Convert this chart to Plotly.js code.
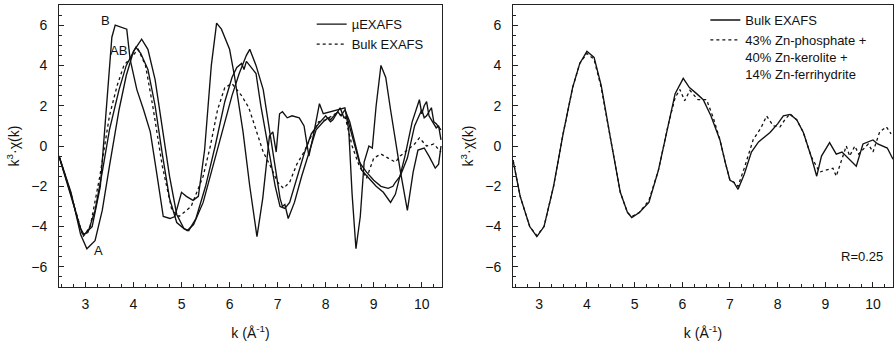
<!DOCTYPE html>
<html>
<head>
<meta charset="utf-8">
<script src="https://cdn.plot.ly/plotly-3.0.1.min.js"></script>
<style>html,body{margin:0;padding:0;background:#fff;}#chart{width:894px;height:344px;}</style>
</head>
<body>
<div id="chart"></div>
<script>
// ---------- Left panel: µEXAFS spectra A, AB, B and bulk EXAFS ----------
const kA  = [2.45,2.7,2.9,3.03,3.2,3.35,3.5,3.7,3.85,4.0,4.17,4.3,4.45,4.6,4.75,4.9,5.05,5.12,5.25,5.45,5.65,5.85,6.05,6.2,6.3,6.35,6.42,6.5,6.55,6.7,6.85,6.95,7.05,7.1,7.15,7.22,7.35,7.5,7.65,7.8,7.95,8.05,8.1,8.2,8.25,8.32,8.4,8.5,8.6,8.75,8.9,9.05,9.2,9.35,9.45,9.55,9.65,9.8,9.9,9.95,10.0,10.05,10.1,10.15,10.2,10.25,10.3,10.35,10.4];
const yA  = [-0.5,-2.3,-4.4,-5.1,-4.7,-3.2,-1.0,1.8,3.5,4.7,5.3,4.8,3.3,1.0,-1.5,-3.4,-4.1,-4.2,-3.9,-2.8,-1.0,0.7,2.5,3.6,4.2,4.5,4.8,4.3,4.0,2.8,0.5,-1.2,-2.6,-3.0,-2.9,-3.6,-2.8,-1.5,-0.3,0.8,1.2,1.4,1.3,1.6,1.7,1.5,1.8,1.2,0.2,-1.2,-1.6,-2.0,-2.3,-2.8,-2.4,-1.5,-0.5,1.2,1.9,2.3,1.6,2.0,2.2,1.5,1.3,1.1,0.9,1.0,0.3];
const kAB = [2.45,2.7,2.88,2.95,3.05,3.2,3.35,3.5,3.7,3.85,4.05,4.15,4.3,4.45,4.6,4.75,4.9,5.05,5.15,5.3,5.5,5.7,5.9,6.05,6.15,6.25,6.3,6.35,6.45,6.55,6.65,6.8,6.95,7.05,7.15,7.25,7.4,7.55,7.7,7.85,8.0,8.1,8.15,8.25,8.3,8.38,8.45,8.55,8.7,8.85,9.0,9.15,9.3,9.4,9.45,9.55,9.7,9.85,9.95,10.0,10.05,10.1,10.2,10.25,10.3,10.4];
const yAB = [-0.5,-2.4,-4.0,-4.4,-4.3,-3.2,-1.3,0.8,2.8,4.0,4.9,4.6,3.8,2.0,-0.4,-2.6,-3.8,-4.1,-4.2,-3.6,-2.0,0.0,2.2,3.4,3.9,4.1,3.8,4.2,3.9,3.6,2.0,0.0,-2.0,-3.0,-3.1,-2.8,-1.6,-0.4,0.6,1.1,1.5,1.2,1.3,1.7,1.9,1.4,1.4,0.5,-0.8,-1.3,-1.7,-2.0,-2.1,-2.0,-1.8,-1.5,-0.6,1.0,1.5,1.8,1.4,1.5,1.9,1.2,1.1,0.8];
const kB  = [2.45,2.72,2.9,2.97,3.14,3.31,3.45,3.55,3.62,3.76,3.86,3.93,4.07,4.21,4.35,4.48,4.62,4.76,4.86,5.0,5.1,5.24,5.35,5.48,5.62,5.73,5.83,6.0,6.1,6.28,6.42,6.57,6.69,6.83,6.9,6.97,7.04,7.1,7.2,7.3,7.45,7.55,7.65,7.75,7.87,7.95,8.1,8.25,8.4,8.48,8.55,8.63,8.72,8.8,8.9,8.97,9.05,9.15,9.25,9.35,9.45,9.55,9.7,9.82,9.92,10.05,10.15,10.28,10.35,10.4];
const yB  = [-0.5,-2.6,-4.1,-4.4,-4.0,-2.0,2.3,5.4,6.0,5.9,5.8,4.3,2.8,1.8,0.7,-1.3,-3.5,-3.6,-3.5,-2.3,-2.5,-2.7,-2.5,-0.2,4.0,6.1,5.8,4.8,3.5,0.7,-2.0,-4.5,-2.6,0.5,0.7,-0.3,1.6,1.7,1.4,1.5,1.4,1.0,-0.5,0.6,2.1,1.6,1.7,1.8,1.9,0.8,-2.4,-5.1,-3.5,-0.8,0.0,-0.1,2.0,4.0,3.4,1.8,0.2,-1.2,-3.2,-1.3,-0.2,-0.1,-0.5,-1.1,-0.9,0.0];
const kBulkL = [2.45,2.7,2.95,3.1,3.3,3.5,3.66,3.8,4.1,4.25,4.4,4.6,4.8,4.95,5.2,5.45,5.6,5.75,5.9,6.05,6.25,6.4,6.55,6.7,6.85,7.0,7.12,7.25,7.4,7.55,7.7,7.85,8.0,8.2,8.4,8.55,8.7,8.85,9.0,9.15,9.3,9.45,9.55,9.7,9.85,9.95,10.1,10.25,10.4];
const yBulkL = [-0.5,-2.4,-4.5,-4.0,-1.5,1.5,3.0,4.0,4.8,4.0,2.0,-1.0,-3.2,-3.5,-3.0,-1.5,0.0,1.8,2.9,3.1,2.5,1.9,0.8,-0.3,-1.0,-1.8,-2.1,-1.8,-0.9,-0.3,0.5,1.2,1.3,1.6,1.5,0.0,-1.0,-1.6,-0.6,-0.4,-0.6,-0.8,-0.5,-0.2,0.1,0.4,0.0,0.1,-0.3];

// ---------- Right panel: bulk EXAFS and linear-combination fit ----------
const kBulkR = [2.45,2.6,2.8,2.95,3.1,3.3,3.5,3.7,3.85,4.0,4.15,4.3,4.5,4.7,4.85,4.94,5.1,5.3,5.5,5.7,5.85,6.02,6.15,6.3,6.44,6.6,6.79,6.9,7.0,7.08,7.17,7.3,7.45,7.6,7.84,8.0,8.12,8.26,8.4,8.54,8.7,8.82,8.92,9.09,9.23,9.35,9.51,9.65,9.79,9.9,10.0,10.1,10.21,10.3,10.42];
const yBulkR = [-0.7,-2.5,-4.0,-4.5,-4.0,-2.0,0.6,2.9,4.1,4.7,4.4,3.0,0.3,-2.3,-3.3,-3.55,-3.3,-2.8,-1.2,1.0,2.6,3.36,2.9,2.6,2.3,1.5,0.3,-0.8,-1.7,-1.8,-2.15,-1.4,-0.3,0.2,0.67,1.1,1.5,1.57,1.3,0.67,-0.5,-1.5,-0.5,0.17,-0.4,-0.3,-0.66,-1.0,0.1,0.2,0.3,0.1,0.0,-0.1,-0.66];
const kFit = [2.45,2.6,2.8,2.95,3.1,3.3,3.5,3.7,3.85,4.0,4.15,4.3,4.5,4.7,4.85,4.94,5.1,5.3,5.5,5.7,5.85,5.95,6.05,6.16,6.33,6.51,6.65,6.79,6.9,7.0,7.08,7.17,7.3,7.49,7.65,7.77,7.91,8.05,8.15,8.26,8.4,8.54,8.7,8.88,9.0,9.16,9.23,9.44,9.51,9.62,9.7,9.9,10.0,10.14,10.28,10.38];
const yFit = [-0.7,-2.5,-4.0,-4.45,-4.0,-2.0,0.6,2.9,4.1,4.6,4.3,2.9,0.3,-2.3,-3.3,-3.5,-3.3,-2.7,-1.2,1.0,2.4,2.8,2.25,2.76,2.3,2.3,1.4,0.3,-0.8,-1.7,-1.8,-2.0,-1.1,0.33,0.9,1.49,1.0,0.95,1.3,1.6,1.3,0.67,-0.5,-1.3,-1.2,-1.1,-1.5,0.0,-0.5,0.0,-0.4,0.1,-0.3,0.7,0.95,0.6];

const namesLeft = ['µEXAFS','Bulk EXAFS'];
const namesRight = ['Bulk EXAFS','43% Zn-phosphate +<br>40% Zn-kerolite +<br>14% Zn-ferrihydrite'];
const labels = [{t:'B',k:3.41,y:6.25},{t:'AB',k:3.69,y:4.72},{t:'A',k:3.28,y:-5.2}];

const FONT = 'Liberation Sans, Arial, sans-serif';
const solid = {color:'#111', width:1.35};
const dotted = {color:'#111', width:1.3, dash:'dot'};

const traces = [
  {x:kA, y:yA, mode:'lines', line:solid, name:namesLeft[0], legend:'legend', showlegend:true, xaxis:'x', yaxis:'y'},
  {x:kAB, y:yAB, mode:'lines', line:solid, name:namesLeft[0], legend:'legend', showlegend:false, xaxis:'x', yaxis:'y'},
  {x:kB, y:yB, mode:'lines', line:solid, name:namesLeft[0], legend:'legend', showlegend:false, xaxis:'x', yaxis:'y'},
  {x:kBulkL, y:yBulkL, mode:'lines', line:dotted, name:namesLeft[1], legend:'legend', showlegend:true, xaxis:'x', yaxis:'y'},
  {x:kBulkR, y:yBulkR, mode:'lines', line:solid, name:namesRight[0], legend:'legend2', showlegend:true, xaxis:'x2', yaxis:'y2'},
  {x:kFit, y:yFit, mode:'lines', line:dotted, name:namesRight[1], legend:'legend2', showlegend:true, xaxis:'x2', yaxis:'y2'}
];

function xax(domain, anchor){
  return {domain:domain, anchor:anchor, range:[2.45,10.42], tickmode:'linear', tick0:0, dtick:1,
    ticks:'inside', ticklen:5, tickwidth:1, tickcolor:'#222', showline:true, linecolor:'#222', linewidth:1, mirror:true,
    showgrid:false, zeroline:false, ticklabelstandoff:4,
    minor:{dtick:0.25, tick0:0, ticks:'inside', ticklen:3, tickwidth:1, tickcolor:'#222', showgrid:false},
    tickfont:{family:FONT, size:14, color:'#111'},
    title:{text:'k (Å<sup>-1</sup>)', font:{family:FONT, size:14, color:'#111'}, standoff:17}};
}
function yax(domain, anchor){
  return {domain:domain, anchor:anchor, range:[-7,7], tickmode:'linear', tick0:0, dtick:2,
    ticks:'inside', ticklen:5, tickwidth:1, tickcolor:'#222', showline:true, linecolor:'#222', linewidth:1, mirror:true,
    showgrid:false, zeroline:false, ticklabelstandoff:8,
    minor:{dtick:0.5, tick0:0, ticks:'inside', ticklen:3, tickwidth:1, tickcolor:'#222', showgrid:false},
    tickfont:{family:FONT, size:14, color:'#111'},
    title:{text:'k<sup>3</sup>·χ(k)', font:{family:FONT, size:14, color:'#111'}, standoff:8}};
}

const annotations = labels.map(l => ({text:l.t, x:l.k, y:l.y, xref:'x', yref:'y', showarrow:false,
  font:{family:FONT, size:13, color:'#111'}}));
annotations.push({text:'R=0.25', x:9.78, y:-5.5, xref:'x2', yref:'y2', showarrow:false,
  font:{family:FONT, size:13, color:'#111'}});

const layout = {
  width:894, height:344, paper_bgcolor:'#fff', plot_bgcolor:'#fff',
  margin:{l:59, r:1, t:5, b:57},
  showlegend:true,
  xaxis:xax([0,0.4592],'y'), yaxis:yax([0,1],'x'),
  xaxis2:xax([0.5444,1],'y2'), yaxis2:yax([0,1],'x2'),
  legend:{x:0.303, y:0.985, xanchor:'left', yanchor:'top', bgcolor:'rgba(0,0,0,0)', borderwidth:0,
    font:{family:FONT, size:13, color:'#111'}, tracegroupgap:0},
  legend2:{x:0.775, y:1.0, xanchor:'left', yanchor:'top', bgcolor:'rgba(0,0,0,0)', borderwidth:0, valign:'top',
    font:{family:FONT, size:13, color:'#111'}, tracegroupgap:0},
  annotations:annotations
};

Plotly.newPlot('chart', traces, layout, {displayModeBar:false, staticPlot:true});
</script>
</body>
</html>
